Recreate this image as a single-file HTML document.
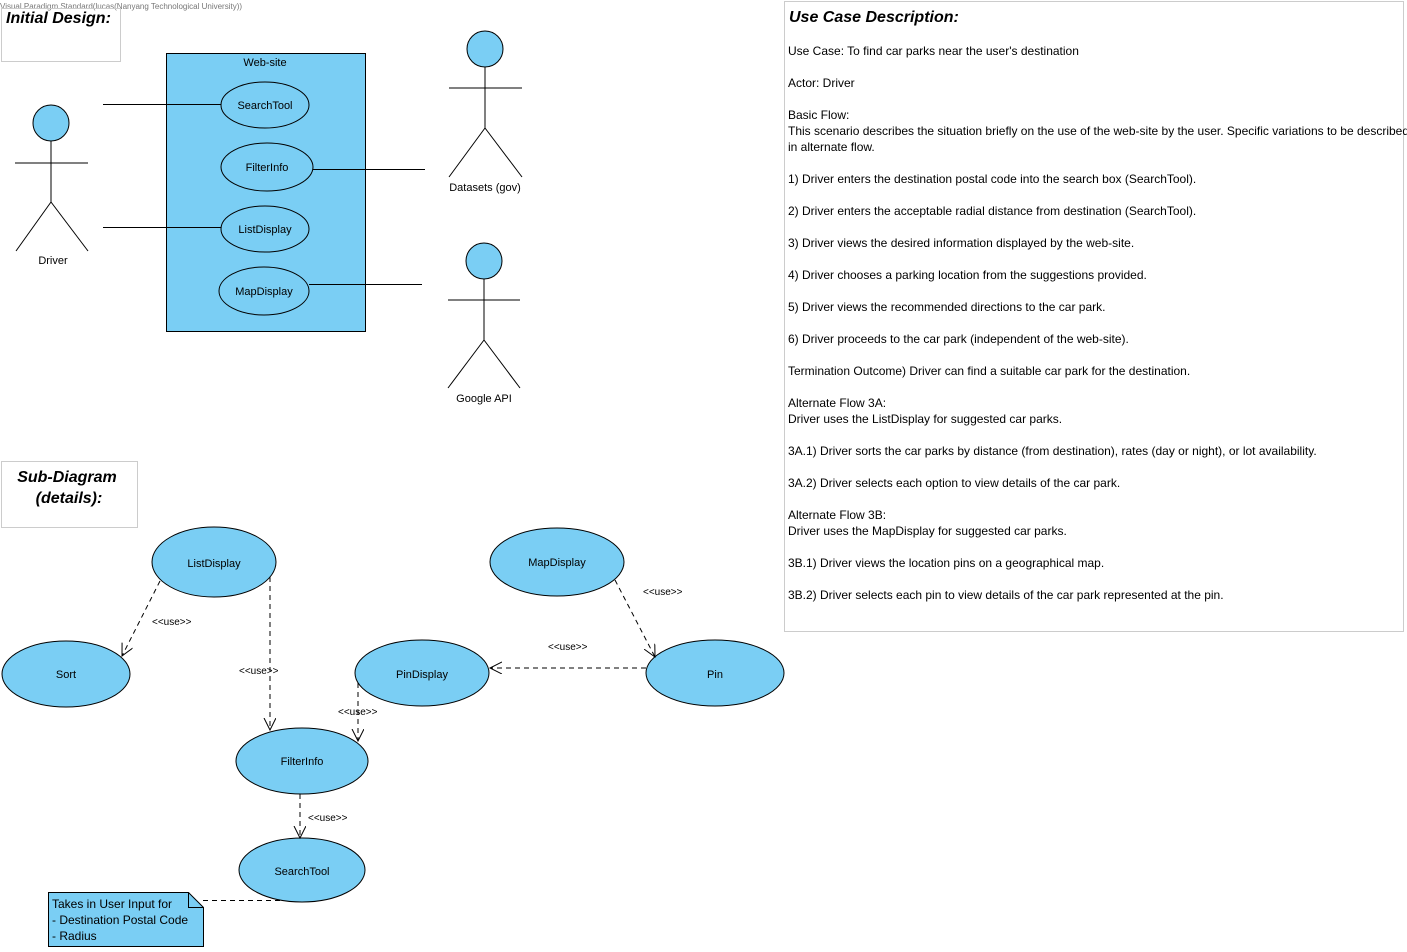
<!DOCTYPE html>
<html><head><meta charset="utf-8"><style>
html,body{margin:0;padding:0;background:#fff;}
svg{display:block;font-family:"Liberation Sans",Arial,sans-serif;}
</style></head><body>
<svg width="1407" height="952" viewBox="0 0 1407 952" xmlns="http://www.w3.org/2000/svg">
<defs>
<marker id="ar" markerWidth="14" markerHeight="14" refX="12" refY="6" orient="auto" markerUnits="userSpaceOnUse">
<path d="M0,0 L12,6 L0,12" fill="none" stroke="#000" stroke-width="1"/>
</marker>
</defs>
<text x="0" y="9" font-size="8" fill="#777">Visual Paradigm Standard(lucas(Nanyang Technological University))</text>

<!-- Initial design box -->
<rect x="1.5" y="8.5" width="119" height="53" fill="none" stroke="#ccc"/>
<text x="6" y="23" font-size="16" font-weight="bold" font-style="italic">Initial Design:</text>

<!-- Web-site system -->
<rect x="166.5" y="53.5" width="199" height="278" fill="#7ACEF4" stroke="#000"/>
<text x="265" y="66" font-size="11" text-anchor="middle">Web-site</text>
<g stroke="#000" fill="#7ACEF4">
<ellipse cx="265" cy="105" rx="44" ry="23"/>
<ellipse cx="267" cy="167" rx="46" ry="24"/>
<ellipse cx="265" cy="229" rx="44" ry="23"/>
<ellipse cx="264" cy="291" rx="45" ry="24"/>
</g>
<g font-size="11" text-anchor="middle">
<text x="265" y="109">SearchTool</text>
<text x="267" y="171">FilterInfo</text>
<text x="265" y="233">ListDisplay</text>
<text x="264" y="295">MapDisplay</text>
</g>
<g stroke="#000" stroke-width="1">
<line x1="103" y1="104.5" x2="221" y2="104.5"/>
<line x1="103" y1="227.5" x2="221" y2="227.5"/>
<line x1="313" y1="169.5" x2="425" y2="169.5"/>
<line x1="309" y1="284.5" x2="422" y2="284.5"/>
</g>

<!-- Actors -->
<g stroke="#000" fill="#7ACEF4">
<circle cx="51" cy="123" r="18"/>
<line x1="51" y1="141" x2="51" y2="202"/><line x1="15" y1="163" x2="88" y2="163"/>
<line x1="51" y1="202" x2="16" y2="251"/><line x1="51" y1="202" x2="88" y2="251"/>
<circle cx="485" cy="49" r="18"/>
<line x1="485" y1="67" x2="485" y2="128"/><line x1="449" y1="88" x2="522" y2="88"/>
<line x1="485" y1="128" x2="449" y2="177"/><line x1="485" y1="128" x2="522" y2="177"/>
<circle cx="484" cy="261" r="18"/>
<line x1="484" y1="279" x2="484" y2="340"/><line x1="448" y1="300" x2="520" y2="300"/>
<line x1="484" y1="340" x2="448" y2="388"/><line x1="484" y1="340" x2="520" y2="388"/>
</g>
<g font-size="11" text-anchor="middle">
<text x="53" y="264">Driver</text>
<text x="485" y="191">Datasets (gov)</text>
<text x="484" y="402">Google API</text>
</g>

<!-- Sub-diagram box -->
<rect x="1.5" y="461.5" width="136" height="66" fill="none" stroke="#ccc"/>
<text x="67" y="482" font-size="16" font-weight="bold" font-style="italic" text-anchor="middle">Sub-Diagram</text>
<text x="69" y="503" font-size="16" font-weight="bold" font-style="italic" text-anchor="middle">(details):</text>

<g stroke="#000" fill="#7ACEF4">
<ellipse cx="214" cy="562" rx="62" ry="35"/>
<ellipse cx="66" cy="674" rx="64" ry="33"/>
<ellipse cx="557" cy="562" rx="67" ry="34"/>
<ellipse cx="422" cy="673" rx="67" ry="33"/>
<ellipse cx="715" cy="673" rx="69" ry="33"/>
<ellipse cx="302" cy="761" rx="66" ry="33"/>
<ellipse cx="302" cy="870" rx="63" ry="32"/>
</g>
<g font-size="11" text-anchor="middle">
<text x="214" y="567">ListDisplay</text>
<text x="66" y="678">Sort</text>
<text x="557" y="566">MapDisplay</text>
<text x="422" y="678">PinDisplay</text>
<text x="715" y="678">Pin</text>
<text x="302" y="765">FilterInfo</text>
<text x="302" y="875">SearchTool</text>
</g>
<g stroke="#000" stroke-dasharray="5,4" fill="none" marker-end="url(#ar)">
<line x1="160" y1="581" x2="122" y2="656"/>
<line x1="270" y1="577" x2="270" y2="730"/>
<line x1="358" y1="683" x2="358" y2="741"/>
<line x1="300" y1="794" x2="300" y2="838"/>
<line x1="615" y1="580" x2="655" y2="657"/>
<line x1="646" y1="668" x2="490" y2="668"/>
</g>
<g font-size="10">
<text x="152" y="625">&lt;&lt;use&gt;&gt;</text>
<text x="239" y="674">&lt;&lt;use&gt;&gt;</text>
<text x="338" y="715">&lt;&lt;use&gt;&gt;</text>
<text x="308" y="821">&lt;&lt;use&gt;&gt;</text>
<text x="643" y="595">&lt;&lt;use&gt;&gt;</text>
<text x="548" y="650">&lt;&lt;use&gt;&gt;</text>
</g>

<!-- Note -->
<line x1="203" y1="900.5" x2="283" y2="900.5" stroke="#000" stroke-dasharray="5,4"/>
<path d="M48.5,892.5 H188.5 L203.5,907.5 V946.5 H48.5 Z" fill="#7ACEF4" stroke="#000"/>
<path d="M188.5,892.5 V907.5 H203.5" fill="none" stroke="#000"/>
<g font-size="12">
<text x="52" y="908">Takes in User Input for</text>
<text x="52" y="924">- Destination Postal Code</text>
<text x="52" y="940">- Radius</text>
</g>

<!-- Description panel -->
<svg x="784" y="1" width="623" height="632">
<rect x="0.5" y="0.5" width="619" height="630" fill="#fff" stroke="#ccc"/>
<text x="5" y="21" font-size="16" font-weight="bold" font-style="italic">Use Case Description:</text>
<g font-size="12">
<text x="4" y="54">Use Case: To find car parks near the user's destination</text>
<text x="4" y="86">Actor: Driver</text>
<text x="4" y="118">Basic Flow:</text>
<text x="4" y="134">This scenario describes the situation briefly on the use of the web-site by the user. Specific variations to be described</text>
<text x="4" y="150">in alternate flow.</text>
<text x="4" y="182">1) Driver enters the destination postal code into the search box (SearchTool).</text>
<text x="4" y="214">2) Driver enters the acceptable radial distance from destination (SearchTool).</text>
<text x="4" y="246">3) Driver views the desired information displayed by the web-site.</text>
<text x="4" y="278">4) Driver chooses a parking location from the suggestions provided.</text>
<text x="4" y="310">5) Driver views the recommended directions to the car park.</text>
<text x="4" y="342">6) Driver proceeds to the car park (independent of the web-site).</text>
<text x="4" y="374">Termination Outcome) Driver can find a suitable car park for the destination.</text>
<text x="4" y="406">Alternate Flow 3A:</text>
<text x="4" y="422">Driver uses the ListDisplay for suggested car parks.</text>
<text x="4" y="454">3A.1) Driver sorts the car parks by distance (from destination), rates (day or night), or lot availability.</text>
<text x="4" y="486">3A.2) Driver selects each option to view details of the car park.</text>
<text x="4" y="518">Alternate Flow 3B:</text>
<text x="4" y="534">Driver uses the MapDisplay for suggested car parks.</text>
<text x="4" y="566">3B.1) Driver views the location pins on a geographical map.</text>
<text x="4" y="598">3B.2) Driver selects each pin to view details of the car park represented at the pin.</text>
</g>
</svg>
</svg>
</body></html>
